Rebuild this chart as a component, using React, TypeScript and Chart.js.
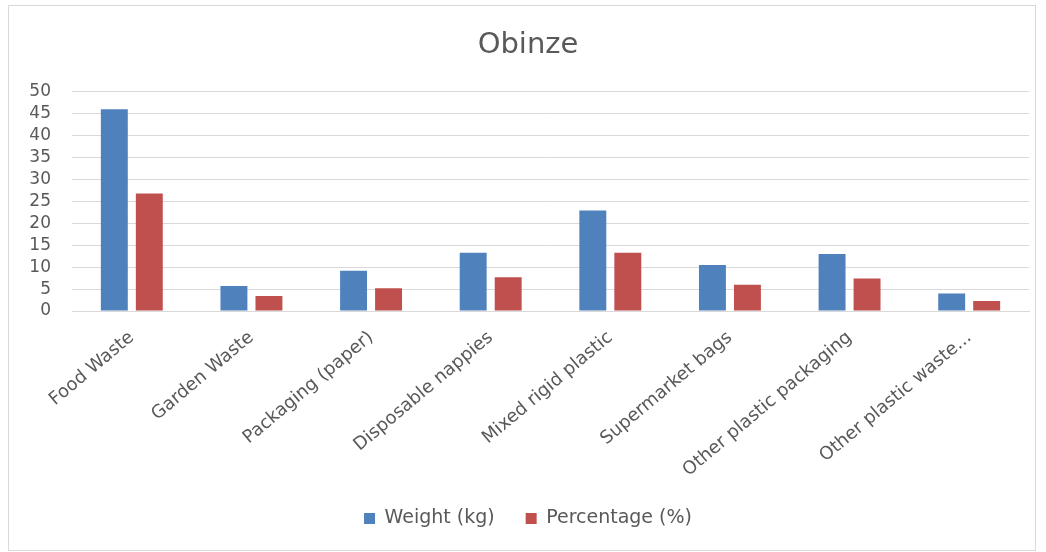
import React, { useEffect, useRef } from "react";
import { Chart, registerables } from "chart.js";

Chart.register(...registerables);

const categories = [
  "Food Waste",
  "Garden Waste",
  "Packaging (paper)",
  "Disposable nappies",
  "Mixed rigid plastic",
  "Supermarket bags",
  "Other plastic packaging",
  "Other plastic waste...",
];
const weightKg = [46, 5.7, 9.2, 13.3, 22.9, 10.5, 13.0, 4.0];
const percentage = [26.8, 3.4, 5.2, 7.7, 13.3, 6.0, 7.4, 2.3];
const yTicks = [0, 5, 10, 15, 20, 25, 30, 35, 40, 45, 50];

const FONT = "'DejaVu Sans', sans-serif";
const GREY = "#595959";

export default function App() {
  const ref = useRef<HTMLCanvasElement | null>(null);

  useEffect(() => {
    document.body.style.margin = "0";
    if (!ref.current) return;
    const chart = new Chart(ref.current, {
      type: "bar",
      data: {
        labels: categories,
        datasets: [
          {
            label: "Weight (kg)",
            data: weightKg,
            backgroundColor: "#4F81BD",
            barPercentage: 0.77,
            categoryPercentage: 0.585,
          },
          {
            label: "Percentage (%)",
            data: percentage,
            backgroundColor: "#C0504D",
            barPercentage: 0.77,
            categoryPercentage: 0.585,
          },
        ],
      },
      options: {
        animation: false,
        responsive: false,
        maintainAspectRatio: false,
        layout: { padding: { left: 18, right: 6, top: 0, bottom: 12 } },
        plugins: {
          title: {
            display: true,
            text: "Obinze",
            color: GREY,
            font: { family: FONT, size: 29, weight: "normal" },
            padding: { top: 22, bottom: 29 },
          },
          legend: {
            position: "bottom",
            labels: {
              color: GREY,
              font: { family: FONT, size: 19 },
              boxWidth: 11,
              boxHeight: 11,
              padding: 31,
            },
          },
          tooltip: { enabled: false },
        },
        scales: {
          x: {
            grid: { display: false },
            border: { display: true, color: "#d9d9d9" },
            afterFit: (scale: any) => {
              scale.height = 167;
            },
            ticks: {
              color: GREY,
              font: { family: FONT, size: 18 },
              maxRotation: 40,
              minRotation: 40,
              autoSkip: false,
              padding: 8,
            },
          },
          y: {
            min: 0,
            max: 50,
            afterBuildTicks: (scale: any) => {
              scale.ticks = yTicks.map((v) => ({ value: v }));
            },
            afterFit: (scale: any) => {
              scale.width = 45;
            },
            grid: { color: "#d9d9d9", drawTicks: false },
            border: { display: false },
            ticks: {
              color: GREY,
              font: { family: FONT, size: 17 },
              padding: 21,
              autoSkip: false,
            },
          },
        },
      },
    });
    return () => chart.destroy();
  }, []);

  return (
    <div
      style={{
        position: "absolute",
        left: 8,
        top: 5,
        width: 1026,
        height: 544,
        border: "1px solid #d9d9d9",
        background: "#fff",
      }}
    >
      <canvas ref={ref} width={1026} height={544} style={{ display: "block" }} />
    </div>
  );
}
